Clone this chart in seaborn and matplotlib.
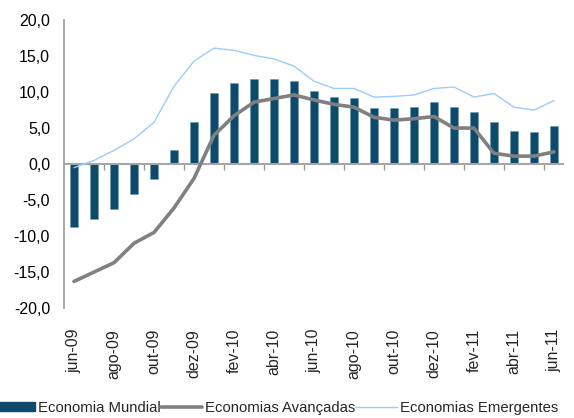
import numpy as np
import matplotlib
matplotlib.use('Agg')
import matplotlib.pyplot as plt
import seaborn as sns
from matplotlib.patches import Patch
from matplotlib.lines import Line2D
from matplotlib.ticker import FuncFormatter

months = ['jun-09', 'jul-09', 'ago-09', 'set-09', 'out-09', 'nov-09', 'dez-09',
          'jan-10', 'fev-10', 'mar-10', 'abr-10', 'mai-10', 'jun-10', 'jul-10',
          'ago-10', 'set-10', 'out-10', 'nov-10', 'dez-10', 'jan-11', 'fev-11',
          'mar-11', 'abr-11', 'mai-11', 'jun-11']

mundial = [-8.8, -7.6, -6.2, -4.1, -2.1, 2.0, 5.9, 9.9, 11.3, 11.8, 11.8, 11.6,
           10.2, 9.3, 9.2, 7.8, 7.8, 7.9, 8.6, 7.9, 7.2, 5.8, 4.6, 4.4, 5.3]
avancadas = [-16.3, -15.0, -13.7, -11.0, -9.5, -6.1, -2.0, 4.0, 6.7, 8.6, 9.1,
             9.6, 8.9, 8.3, 7.9, 6.5, 6.1, 6.3, 6.6, 5.0, 5.0, 1.5, 1.1, 1.1, 1.7]
emergentes = [-0.5, 0.5, 1.9, 3.5, 5.8, 10.8, 14.3, 16.1, 15.8, 15.1, 14.6,
              13.6, 11.5, 10.5, 10.5, 9.3, 9.4, 9.6, 10.5, 10.7, 9.3, 9.8, 7.9,
              7.5, 8.8]

labels = ['Economia Mundial', 'Economias Avançadas', 'Economias Emergentes']

sns.set_style('white')
plt.rcParams['font.family'] = ['Liberation Sans', 'DejaVu Sans']

bar_color = '#0d4a6b'
gray = '#808080'
light = '#99ccff'

fig = plt.figure(figsize=(5.74, 4.18), dpi=100)
ax = fig.add_axes([0.1115, 0.263, 0.871, 0.689])

x = np.arange(len(months))
sns.barplot(x=months, y=mundial, color=bar_color, width=0.38, saturation=1,
            edgecolor='#6f9ab3', linewidth=0.4, ax=ax)
sns.lineplot(x=x, y=avancadas, color=gray, linewidth=2.6, ax=ax)
sns.lineplot(x=x, y=emergentes, color=light, linewidth=1.0, ax=ax)

ax.set_xlim(-0.5, len(months) - 0.5)
ax.set_ylim(-20, 20)
ax.set_yticks(np.arange(-20, 21, 5))
ax.yaxis.set_major_formatter(FuncFormatter(lambda v, p: f'{v:.1f}'.replace('.', ',')))
ax.tick_params(axis='y', direction='in', length=4, width=1, color='#999999',
               labelsize=11.5, pad=10, labelcolor='black')

ax.set_xticks(x[::2])
ax.set_xticklabels(months[::2], rotation=90)
ax.tick_params(axis='x', length=0, labelsize=11.5, pad=15)

for s in ['top', 'right', 'bottom']:
    ax.spines[s].set_visible(False)
ax.spines['left'].set_color('#999999')
ax.spines['left'].set_linewidth(1.2)

# zero line with the small category ticks on it
ax.axhline(0, color='#a6a6a6', linewidth=1.5, zorder=1)
sec = ax.secondary_xaxis(0.5)
sec.set_xticks(np.arange(1.5, len(months) - 1, 2))
sec.tick_params(axis='x', direction='in', length=4, width=1, color='#999999',
                labelbottom=False, labeltop=False)
sec.spines['bottom'].set_visible(False)
sec.spines['top'].set_visible(False)
sec.set_xticklabels([])

ax.set_xlabel('')
ax.set_ylabel('')

handles = [Patch(facecolor=bar_color, edgecolor=bar_color),
           Line2D([0], [0], color=gray, linewidth=2.6),
           Line2D([0], [0], color=light, linewidth=1.0)]
fig.legend(handles, labels, loc='center left', bbox_to_anchor=(-0.022, 0.025),
           ncol=3, frameon=False, fontsize=10.7, handlelength=2.8,
           handleheight=0.5, handletextpad=0.2, columnspacing=0.0,
           borderaxespad=0)

fig.savefig('out.png', dpi=100)
